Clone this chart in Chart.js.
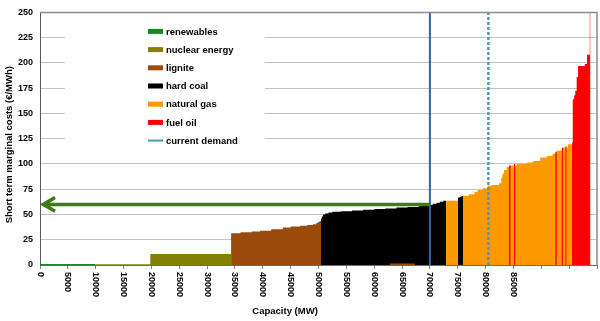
<!DOCTYPE html>
<html>
<head>
<meta charset="utf-8">
<script src="https://cdn.jsdelivr.net/npm/chart.js@4"></script>
<style>
  html, body { margin: 0; padding: 0; background: #fff; }
</style>
</head>
<body>
<canvas id="meritChart" width="600" height="321"></canvas>
<script>
// merit order steps: [capacity MW, marginal cost €/MWh], null = gap
const renewables = [[0, 1], [10000, 1]];
const nuclear = [[10000, 0.8], [19800, 11], [34300, 11]];
const lignite = [[34300, 31.3], [36000, 32.3], [38000, 33.2], [39500, 34], [41500, 35.5], [43600, 37],
    [45000, 38], [46700, 38.8], [48000, 39.5], [49000, 40.4], [49600, 41.5], [49900, 42.5], [50200, 43.5], [50450, 43.5],
    [50450, null], [62800, 1.5], [67300, 1.5]];
const hardCoal = [[50450, 46], [50600, 48], [50800, 50], [51200, 51], [51800, 52], [52500, 52.8], [54000, 53.3],
    [56000, 54], [58000, 54.6], [60000, 55.4], [62000, 56], [64000, 56.8], [66000, 57.5], [68000, 58.5], [69500, 59.5],
    [70500, 60.5], [71200, 61.5], [71800, 62.5], [72400, 63.5], [72900, 63.5],
    [72900, null], [75050, 66.9], [75400, 67.5], [75700, 68.3], [75950, 68.3]];
const naturalGas = [[72900, 63.7], [75050, 66], [75950, 68.5], [77000, 70], [78000, 72.5], [78600, 74.3], [79500, 76],
    [80400, 78.5], [81100, 79.3], [82400, 80.8], [82800, 86], [83000, 90.4], [83300, 94], [83800, 97], [84400, 98.5],
    [85600, 100], [87500, 101.5], [88500, 103], [89800, 106.3], [91000, 108], [92000, 110], [92800, 113],
    [93900, 116.3], [94800, 119.5], [95500, 119.5]];
const fuelOil = [[84200, 98.5], [84500, 98.5], [84500, null], [85100, 100], [85350, 100], [85350, null],
    [92500, 112], [92800, 112], [92800, null], [93650, 116], [93900, 116], [93900, null],
    [94300, 117.5], [94550, 117.5], [94550, null],
    [95500, 121], [95650, 164], [95900, 168], [96100, 172.5], [96350, 186], [96600, 197], [97800, 199],
    [98200, 208], [98700, 208], [98700, 258], [98830, 258]];

const currentDemand = 80500;
const demandMark = 70000;
const priceArrow = [[70000, 60], [600, 60], [600, null], [2700, 66.8], [600, 60], [2700, 53.2]];

const capacityTicks = [0, 5000, 10000, 15000, 20000, 25000, 30000, 35000, 40000, 45000, 50000, 55000, 60000, 65000, 70000, 75000, 80000, 85000];
const legendNames = ['renewables', 'nuclear energy', 'lignite', 'hard coal', 'natural gas', 'fuel oil', 'current demand'];
const legendColors = ['#138a26', '#828200', '#9c4a0c', '#000000', '#ff9900', '#ff0000', '#4a9bb7'];

const FONT = 'Arial, "Liberation Sans", sans-serif';
const pts = a => a.map(([x, y]) => ({ x, y }));

function block(label, steps, color, order) {
    // 'before' in chart.js = horizontal first, then vertical
    return {
        label, data: pts(steps), stepped: 'before', fill: 'origin', order: order || 0,
        backgroundColor: color, borderColor: 'transparent', borderWidth: 1, pointRadius: 0, spanGaps: false
    };
}

// legend drawn inside the plot on a white box
const fuelLegend = {
    id: 'fuelLegend',
    beforeDatasetsDraw(chart) {
        const { ctx, chartArea: a } = chart;
        ctx.save();
        ctx.fillStyle = '#fff';
        ctx.fillRect(a.left + 25, a.top + 7, 200, 132);
        ctx.font = 'bold 9.5px ' + FONT;
        ctx.textBaseline = 'middle';
        legendNames.forEach((name, i) => {
            const y = a.top + 19 + i * 18.2;
            ctx.fillStyle = legendColors[i];
            if (i === legendNames.length - 1) ctx.fillRect(a.left + 108, y - 1, 15, 2);
            else ctx.fillRect(a.left + 108, y - 2.5, 15, 5);
            ctx.fillStyle = '#000';
            ctx.fillText(name, a.left + 126, y + 0.5);
        });
        ctx.restore();
    }
};

// rotated capacity labels, axis titles and frame
const axisText = {
    id: 'axisText',
    afterDraw(chart) {
        const { ctx, chartArea: a, scales: { x } } = chart;
        ctx.save();
        ctx.fillStyle = '#000';
        ctx.font = 'bold 9px ' + FONT;
        ctx.textAlign = 'left';
        ctx.textBaseline = 'middle';
        capacityTicks.forEach(v => {
            ctx.save();
            ctx.translate(x.getPixelForValue(v), a.bottom + 7);
            ctx.rotate(Math.PI / 2);
            ctx.fillText(String(v), 0, 0);
            ctx.restore();
        });

        ctx.font = 'bold 9.5px ' + FONT;
        ctx.textAlign = 'center';
        ctx.textBaseline = 'alphabetic';
        ctx.fillText('Capacity (MW)', a.left + a.width * 0.44, a.bottom + 49);

        ctx.save();
        ctx.translate(9, (a.top + a.bottom) / 2 + 6);
        ctx.rotate(-Math.PI / 2);
        ctx.textBaseline = 'middle';
        ctx.fillText('Short term marginal costs (€/MWh)', 0, 0);
        ctx.restore();

        ctx.strokeStyle = '#8a8a8a';
        ctx.lineWidth = 1.5;
        ctx.beginPath();
        ctx.moveTo(a.left, a.top);
        ctx.lineTo(a.right, a.top);
        ctx.lineTo(a.right, a.bottom);
        ctx.stroke();
        ctx.restore();
    }
};

new Chart(document.getElementById('meritChart'), {
    type: 'line',
    data: {
        datasets: [
            block('renewables', renewables, legendColors[0]),
            block('nuclear energy', nuclear, legendColors[1]),
            block('lignite', lignite, legendColors[2]),
            block('hard coal', hardCoal, legendColors[3]),
            block('natural gas', naturalGas, legendColors[4], 1),
            block('fuel oil', fuelOil, legendColors[5]),
            {
                label: 'current demand', data: pts([[currentDemand, 0], [currentDemand, 250]]), order: -1,
                borderColor: legendColors[6], borderWidth: 2.5, borderDash: [3, 2], pointRadius: 0, fill: false
            },
            {
                label: 'demand mark', data: pts([[demandMark, 0], [demandMark, 250]]), order: -1,
                borderColor: '#3164a2', borderWidth: 2, pointRadius: 0, fill: false
            },
            {
                label: 'price', data: pts(priceArrow), order: -2, spanGaps: false,
                borderColor: '#3f7b12', borderWidth: 3.5, pointRadius: 0, fill: false
            }
        ]
    },
    options: {
        responsive: false,
        animation: false,
        layout: { padding: { top: 7, right: 3, left: 0, bottom: 0 } },
        plugins: { legend: { display: false }, tooltip: { enabled: false } },
        scales: {
            x: {
                type: 'linear', min: 0, max: 100000,
                ticks: { display: false, stepSize: 5000 },
                grid: { drawOnChartArea: false, drawTicks: true, tickLength: 4, color: '#808080' },
                border: { color: '#6a6a6a', width: 1 },
                afterFit: s => { s.height = 56; }
            },
            y: {
                min: 0, max: 250,
                ticks: { stepSize: 25, color: '#000', padding: 7, font: { family: FONT, size: 9, weight: 'bold' } },
                grid: { color: '#c2c2c2', drawTicks: false },
                border: { color: '#5a5a5a', width: 1 },
                afterFit: s => { s.width = 40; }
            }
        }
    },
    plugins: [fuelLegend, axisText]
});
</script>
</body>
</html>
